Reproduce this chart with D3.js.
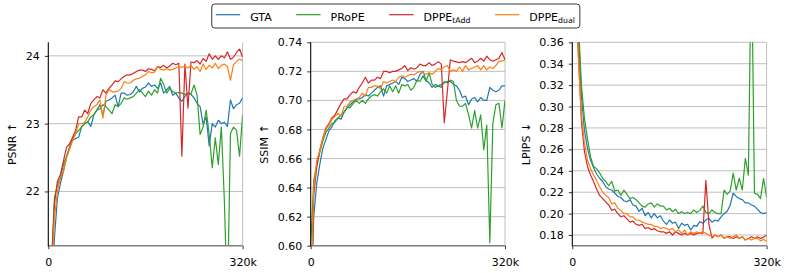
<!DOCTYPE html>
<html>
<head>
<meta charset="utf-8">
<script src="https://cdn.jsdelivr.net/npm/d3@7"></script>
<style>
  body { margin: 0; background: #fff; }
  svg { font-family: "DejaVu Sans", sans-serif; }
</style>
</head>
<body>
<svg id="chart" width="786" height="273"></svg>
<script>
// training step (thousands)
const steps = [0, 5, 10, 15, 20, 25, 30, 35, 40, 45, 50, 55, 60, 65, 70, 75, 80, 85, 90, 95,
  100, 105, 110, 115, 120, 125, 130, 135, 140, 145, 150, 155, 160, 165, 170, 175, 180, 185, 190, 195,
  200, 205, 210, 215, 220, 225, 230, 235, 240, 245, 250, 255, 260, 265, 270, 275, 280, 285, 290, 295,
  300, 305, 310, 315, 320];

const methods = ["GTA", "PRoPE", "DPPE_tAdd", "DPPE_dual"];
const colors = ["#1f77b4", "#2ca02c", "#d62728", "#ff7f0e"];

// PSNR
const psnrGTA = [19.5, 20.3, 21.3, 21.9, 22.12, 22.3, 22.5, 22.65, 22.75, 22.78, 22.8, 22.96, 23.0, 23.03, 22.96, 23.13, 23.2, 23.28, 23.13, 23.33,
  23.35, 23.38, 23.42, 23.25, 23.45, 23.45, 23.42, 23.43, 23.47, 23.55, 23.47, 23.52, 23.54, 23.6, 23.55, 23.57, 23.52, 23.6, 23.45, 23.5,
  23.55, 23.42, 23.45, 23.38, 23.33, 23.4, 23.45, 23.43, 23.38, 23.3, 23.25, 22.99, 23.1, 22.67, 23.0, 22.95, 23.05, 23.0, 23.02, 22.96,
  23.35, 23.22, 23.28, 23.3, 23.38];
const psnrPRoPE = [19.8, 20.9, 21.9, 22.1, 22.2, 22.4, 22.52, 22.65, 22.78, 22.85, 22.9, 22.95, 23.0, 23.03, 23.1, 23.13, 23.2, 23.22, 23.28, 23.25,
  23.2, 23.15, 23.28, 23.25, 23.3, 23.38, 23.36, 23.38, 23.4, 23.45, 23.5, 23.45, 23.4, 23.48, 23.42, 23.5, 23.45, 23.67, 23.58, 23.45,
  23.52, 23.47, 23.45, 23.46, 23.45, 23.43, 23.45, 23.44, 23.57, 23.42, 22.84, 22.95, 23.2, 22.84, 22.35, 22.79, 22.4, 22.95, 21.86, 20.3,
  22.85, 22.95, 22.9, 22.52, 23.13];
const psnrTAdd = [19.8, 20.8, 21.8, 22.15, 22.25, 22.45, 22.65, 22.7, 22.8, 22.9, 23.1, 23.1, 23.2, 23.15, 23.3, 23.35, 23.4, 23.38, 23.5, 23.45,
  23.52, 23.57, 23.63, 23.62, 23.66, 23.7, 23.72, 23.72, 23.74, 23.77, 23.79, 23.79, 23.77, 23.81, 23.8, 23.78, 23.84, 23.83, 23.86, 23.82,
  23.85, 23.89, 23.87, 23.89, 22.52, 23.88, 23.23, 23.91, 23.9, 23.93, 23.88, 23.96, 23.92, 24.03, 23.95, 24.0, 23.95, 24.0, 23.97, 24.06,
  23.95, 23.98, 24.05, 24.1, 23.98];
const psnrDual = [19.6, 20.6, 21.6, 22.0, 22.2, 22.3, 22.5, 22.62, 22.75, 22.85, 23.0, 23.0, 23.02, 23.1, 23.2, 23.25, 23.28, 23.35, 23.08, 23.42,
  23.5, 23.47, 23.47, 23.48, 23.52, 23.62, 23.6, 23.6, 23.64, 23.66, 23.67, 23.7, 23.72, 23.77, 23.75, 23.76, 23.84, 23.8, 23.79, 23.81,
  23.79, 23.8, 23.82, 23.84, 23.83, 23.85, 23.82, 23.86, 23.8, 23.84, 23.77, 23.88, 23.8, 23.86, 23.82, 23.89, 23.81, 23.86, 23.88, 23.84,
  23.64, 23.87, 23.92, 23.95, 23.93];

// SSIM
const ssimGTA = [0.55, 0.62, 0.643, 0.656, 0.667, 0.673, 0.679, 0.682, 0.686, 0.688, 0.687, 0.692, 0.695, 0.697, 0.699, 0.701, 0.701, 0.702, 0.704, 0.703,
  0.705, 0.707, 0.709, 0.71, 0.703, 0.71, 0.711, 0.712, 0.713, 0.711, 0.716, 0.715, 0.713, 0.714, 0.715, 0.713, 0.718, 0.72, 0.714, 0.712,
  0.709, 0.711, 0.71, 0.711, 0.712, 0.713, 0.713, 0.711, 0.71, 0.707, 0.702, 0.703, 0.697, 0.701, 0.702, 0.699, 0.702, 0.7, 0.7, 0.709,
  0.707, 0.706, 0.707, 0.71, 0.71];
const ssimPRoPE = [0.6, 0.645, 0.656, 0.664, 0.672, 0.678, 0.681, 0.684, 0.685, 0.688, 0.69, 0.692, 0.695, 0.695, 0.698, 0.7, 0.698, 0.7, 0.698, 0.701,
  0.703, 0.704, 0.703, 0.706, 0.708, 0.705, 0.71, 0.706, 0.71, 0.705, 0.711, 0.71, 0.711, 0.707, 0.709, 0.714, 0.713, 0.717, 0.713, 0.719,
  0.711, 0.709, 0.71, 0.709, 0.713, 0.712, 0.714, 0.713, 0.7, 0.696, 0.696, 0.698, 0.69, 0.681, 0.693, 0.681, 0.69, 0.666, 0.683, 0.602,
  0.684, 0.697, 0.698, 0.681, 0.7];
const ssimTAdd = [0.55, 0.635, 0.654, 0.666, 0.674, 0.681, 0.684, 0.688, 0.69, 0.694, 0.698, 0.701, 0.701, 0.704, 0.706, 0.705, 0.709, 0.712, 0.716, 0.712,
  0.714, 0.714, 0.716, 0.715, 0.72, 0.72, 0.719, 0.72, 0.72, 0.721, 0.722, 0.724, 0.7205, 0.7225, 0.7215, 0.7225, 0.725, 0.724, 0.724, 0.726,
  0.724, 0.725, 0.7267, 0.725, 0.6846, 0.706, 0.728, 0.727, 0.7265, 0.726, 0.7267, 0.726, 0.7275, 0.729, 0.726, 0.727, 0.729, 0.727, 0.7305, 0.728,
  0.727, 0.728, 0.729, 0.733, 0.728];
const ssimDual = [0.55, 0.64, 0.659, 0.665, 0.674, 0.68, 0.683, 0.687, 0.689, 0.691, 0.689, 0.696, 0.696, 0.699, 0.7, 0.701, 0.702, 0.705, 0.703, 0.709,
  0.709, 0.71, 0.71, 0.708, 0.713, 0.712, 0.713, 0.714, 0.713, 0.716, 0.717, 0.716, 0.717, 0.718, 0.7175, 0.719, 0.72, 0.719, 0.718, 0.719,
  0.718, 0.72, 0.722, 0.721, 0.723, 0.724, 0.72, 0.721, 0.72, 0.723, 0.72, 0.724, 0.721, 0.722, 0.723, 0.724, 0.721, 0.724, 0.721, 0.723,
  0.722, 0.724, 0.727, 0.727, 0.728];

// LPIPS
const lpipsGTA = [0.5, 0.45, 0.37, 0.31, 0.278, 0.261, 0.25, 0.243, 0.237, 0.233, 0.23, 0.225, 0.223, 0.222, 0.219, 0.216, 0.215, 0.212, 0.211, 0.213,
  0.208, 0.207, 0.202, 0.205, 0.198, 0.201, 0.196, 0.2, 0.196, 0.198, 0.193, 0.19, 0.194, 0.191, 0.192, 0.186, 0.191, 0.189, 0.19, 0.1847,
  0.189, 0.188, 0.1925, 0.191, 0.194, 0.1956, 0.192, 0.194, 0.193, 0.197, 0.2, 0.202, 0.208, 0.219, 0.216, 0.214, 0.213, 0.21, 0.21, 0.208,
  0.207, 0.204, 0.201, 0.2, 0.201];
const lpipsPRoPE = [0.5, 0.46, 0.38, 0.32, 0.289, 0.27, 0.253, 0.244, 0.242, 0.238, 0.233, 0.23, 0.226, 0.23, 0.221, 0.222, 0.217, 0.222, 0.218, 0.214,
  0.215, 0.213, 0.21, 0.207, 0.206, 0.209, 0.21, 0.206, 0.209, 0.207, 0.207, 0.2034, 0.205, 0.2018, 0.204, 0.2, 0.2018, 0.2, 0.201, 0.2,
  0.2034, 0.201, 0.203, 0.207, 0.201, 0.2, 0.2034, 0.201, 0.2, 0.2, 0.222, 0.218, 0.221, 0.2377, 0.222, 0.233, 0.222, 0.2517, 0.236, 0.45,
  0.219, 0.218, 0.214, 0.233, 0.215];
const lpipsTAdd = [0.5, 0.42, 0.35, 0.286, 0.258, 0.244, 0.236, 0.23, 0.223, 0.217, 0.214, 0.211, 0.208, 0.203, 0.204, 0.2, 0.197, 0.198, 0.195, 0.192,
  0.193, 0.19, 0.189, 0.19, 0.186, 0.187, 0.185, 0.186, 0.184, 0.183, 0.183, 0.1815, 0.183, 0.18, 0.183, 0.1815, 0.18, 0.1815, 0.18, 0.1815,
  0.18, 0.1815, 0.182, 0.1815, 0.231, 0.19, 0.177, 0.18, 0.1784, 0.18, 0.177, 0.1784, 0.1784, 0.1768, 0.1784, 0.1768, 0.1784, 0.1753, 0.1768, 0.1784,
  0.1768, 0.1784, 0.1768, 0.178, 0.18];
const lpipsDual = [0.5, 0.42, 0.345, 0.292, 0.266, 0.25, 0.242, 0.236, 0.231, 0.225, 0.22, 0.217, 0.215, 0.209, 0.21, 0.205, 0.203, 0.2, 0.2, 0.197,
  0.197, 0.194, 0.194, 0.192, 0.191, 0.19, 0.19, 0.188, 0.188, 0.186, 0.187, 0.1862, 0.1847, 0.1862, 0.183, 0.1847, 0.1815, 0.1847, 0.18, 0.183,
  0.1815, 0.183, 0.1815, 0.183, 0.1815, 0.18, 0.1784, 0.18, 0.1784, 0.18, 0.1768, 0.1784, 0.1768, 0.1784, 0.18, 0.1768, 0.1784, 0.1753, 0.1768, 0.1753,
  0.1768, 0.1768, 0.1745, 0.176, 0.174];

// ticks
const psnrTicks = [22, 23, 24];
const ssimTicks = [0.60, 0.62, 0.64, 0.66, 0.68, 0.70, 0.72, 0.74];
const lpipsTicks = [0.18, 0.20, 0.22, 0.24, 0.26, 0.28, 0.30, 0.32, 0.34, 0.36];
const xTicks = [0, 320];
const xTickLabels = ["0", "320k"];

const panels = [
  {label: "PSNR ↑", left: 48.3, domain: [21.2, 24.2], ticks: psnrTicks, fmt: d3.format("d"),
   series: [psnrGTA, psnrPRoPE, psnrTAdd, psnrDual]},
  {label: "SSIM ↑", left: 310.7, domain: [0.60, 0.74], ticks: ssimTicks, fmt: d3.format(".2f"),
   series: [ssimGTA, ssimPRoPE, ssimTAdd, ssimDual]},
  {label: "LPIPS ↓", left: 572.3, domain: [0.17, 0.36], ticks: lpipsTicks, fmt: d3.format(".2f"),
   series: [lpipsGTA, lpipsPRoPE, lpipsTAdd, lpipsDual]}
];

const svg = d3.select("#chart");
const plotTop = 42.3, plotBottom = 245.7, plotW = 194.3;
const fontSize = 11;

panels.forEach((p, i) => {
  const x = d3.scaleLinear().domain([0, 320]).range([p.left, p.left + plotW]);
  const y = d3.scaleLinear().domain(p.domain).range([plotBottom, plotTop]);
  const g = svg.append("g");

  // lưới ngang
  g.selectAll("line.hgrid")
    .data(p.ticks)
    .enter().append("line")
      .attr("x1", p.left).attr("x2", p.left + plotW)
      .attr("y1", d => y(d)).attr("y2", d => y(d))
      .attr("stroke", "#b0b0b0").attr("stroke-width", 0.8);

  // lưới dọc (0, 320k)
  g.selectAll("line.vgrid")
    .data(xTicks)
    .enter().append("line")
      .attr("x1", d => x(d)).attr("x2", d => x(d))
      .attr("y1", plotTop).attr("y2", plotBottom)
      .attr("stroke", "#b0b0b0").attr("stroke-width", 0.8);

  svg.append("clipPath").attr("id", "clip" + i)
    .append("rect")
      .attr("x", p.left).attr("y", plotTop)
      .attr("width", plotW).attr("height", plotBottom - plotTop);

  const line = d3.line()
    .x((d, j) => x(steps[j]))
    .y(d => y(d));

  g.append("g")
    .attr("clip-path", `url(#clip${i})`)
    .selectAll("path")
    .data(p.series)
    .enter().append("path")
      .attr("d", line)
      .attr("fill", "none")
      .attr("stroke", (d, j) => colors[j])
      .attr("stroke-width", 1.2)
      .attr("stroke-linejoin", "round");

  // trục Y
  const yAxis = g.append("g")
    .attr("transform", `translate(${p.left},0)`)
    .call(d3.axisLeft(y).tickValues(p.ticks).tickFormat(p.fmt).tickSize(3.5).tickPadding(5));
  yAxis.select(".domain").remove();
  yAxis.attr("font-size", fontSize).attr("font-family", "DejaVu Sans");
  yAxis.selectAll("line").attr("stroke", "#000").attr("stroke-width", 0.8);

  // trục X
  const xAxis = g.append("g")
    .attr("transform", `translate(0,${plotBottom})`)
    .call(d3.axisBottom(x).tickValues(xTicks).tickFormat((d, j) => xTickLabels[j]).tickSize(3.5).tickPadding(9));
  xAxis.select(".domain").remove();
  xAxis.attr("font-size", fontSize).attr("font-family", "DejaVu Sans");
  xAxis.selectAll("line").attr("stroke", "#000").attr("stroke-width", 0.8);

  // spines
  g.append("line")
    .attr("x1", p.left).attr("x2", p.left + plotW)
    .attr("y1", plotBottom).attr("y2", plotBottom)
    .attr("stroke", "#808080").attr("stroke-width", 1.6);
  g.append("line")
    .attr("x1", p.left).attr("x2", p.left)
    .attr("y1", plotTop).attr("y2", plotBottom + 0.8)
    .attr("stroke", "#000").attr("stroke-width", 1);

  // nhãn trục Y (getBBox theo toạ độ cục bộ của nhóm trục)
  const bb = yAxis.node().getBBox();
  svg.append("text")
    .attr("transform", `translate(${p.left + bb.x - 9.8},${(plotTop + plotBottom) / 2}) rotate(-90)`)
    .attr("text-anchor", "middle")
    .style("font-size", fontSize + "px")
    .text(p.label);
});

// Chú thích
const legend = svg.append("g");
const box = legend.append("rect")
  .attr("fill", "#fff").attr("stroke", "#222").attr("stroke-width", 0.9)
  .attr("rx", 3).attr("ry", 3);
const items = legend.selectAll("g.item")
  .data(methods)
  .enter().append("g").attr("class", "item");
items.append("line")
  .attr("x1", 0).attr("x2", 24.4)
  .attr("y1", 14.7).attr("y2", 14.7)
  .attr("stroke", (d, j) => colors[j]).attr("stroke-width", 1.2);
const labels = items.append("text")
  .attr("x", 34.4).attr("y", 20.5)
  .style("font-size", fontSize + "px");
labels.each(function(d) {
  const t = d3.select(this);
  const parts = d.split("_");
  t.append("tspan").text(parts[0]);
  if (parts[1]) t.append("tspan").attr("dy", 2.6).style("font-size", "7.8px").text(parts[1]);
});
const widths = [];
labels.each(function() { widths.push(this.getComputedTextLength()); });
const colGap = 24.5, padL = 4, padR = 5;
const total = padL + d3.sum(widths, w => 34.4 + w) + colGap * (methods.length - 1) + padR;
let cx = 395.8 - total / 2;
box.attr("x", cx).attr("y", 4).attr("width", total).attr("height", 24);
cx += padL;
items.each(function(d, j) {
  d3.select(this).attr("transform", `translate(${cx},0)`);
  cx += 34.4 + widths[j] + colGap;
});
</script>
</body>
</html>
